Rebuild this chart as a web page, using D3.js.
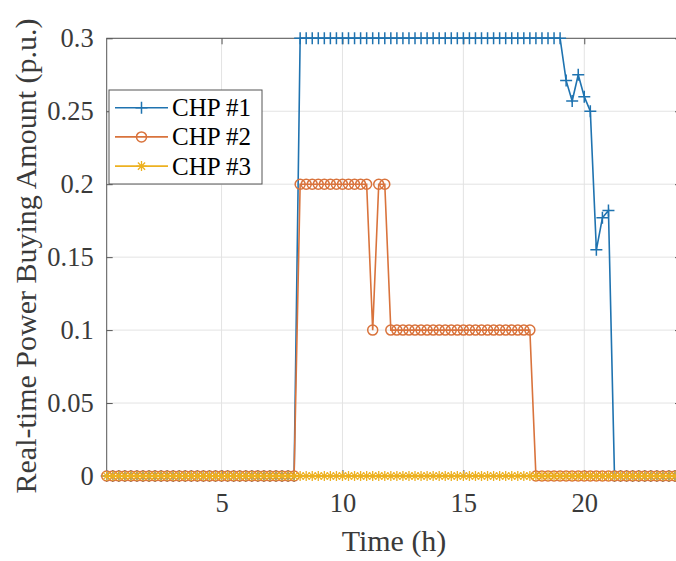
<!DOCTYPE html>
<html>
<head>
<meta charset="utf-8">
<script src="https://cdn.jsdelivr.net/npm/d3@7"></script>
<style>
  html, body { margin: 0; padding: 0; background: #fff; }
  svg { display: block; font-family: "Liberation Serif", "Times New Roman", serif; }
</style>
</head>
<body>
<div id="chart"></div>
<script>
// time steps (h), 15-minute resolution
var hours = [
  0.25, 0.5, 0.75, 1, 1.25, 1.5, 1.75, 2, 2.25, 2.5, 2.75, 3, 3.25, 3.5, 3.75, 4,
  4.25, 4.5, 4.75, 5, 5.25, 5.5, 5.75, 6, 6.25, 6.5, 6.75, 7, 7.25, 7.5, 7.75, 8,
  8.25, 8.5, 8.75, 9, 9.25, 9.5, 9.75, 10, 10.25, 10.5, 10.75, 11, 11.25, 11.5, 11.75, 12,
  12.25, 12.5, 12.75, 13, 13.25, 13.5, 13.75, 14, 14.25, 14.5, 14.75, 15, 15.25, 15.5, 15.75, 16,
  16.25, 16.5, 16.75, 17, 17.25, 17.5, 17.75, 18, 18.25, 18.5, 18.75, 19, 19.25, 19.5, 19.75, 20,
  20.25, 20.5, 20.75, 21, 21.25, 21.5, 21.75, 22, 22.25, 22.5, 22.75, 23, 23.25, 23.5, 23.75, 24
];

var chp1 = [
  0, 0, 0, 0, 0, 0, 0, 0, 0, 0, 0, 0, 0, 0, 0, 0,
  0, 0, 0, 0, 0, 0, 0, 0, 0, 0, 0, 0, 0, 0, 0, 0,
  0.3, 0.3, 0.3, 0.3, 0.3, 0.3, 0.3, 0.3, 0.3, 0.3, 0.3, 0.3, 0.3, 0.3, 0.3, 0.3,
  0.3, 0.3, 0.3, 0.3, 0.3, 0.3, 0.3, 0.3, 0.3, 0.3, 0.3, 0.3, 0.3, 0.3, 0.3, 0.3,
  0.3, 0.3, 0.3, 0.3, 0.3, 0.3, 0.3, 0.3, 0.3, 0.3, 0.3, 0.3, 0.271, 0.257, 0.275, 0.26,
  0.25, 0.155, 0.177, 0.182, 0, 0, 0, 0, 0, 0, 0, 0, 0, 0, 0, 0
];

var chp2 = [
  0, 0, 0, 0, 0, 0, 0, 0, 0, 0, 0, 0, 0, 0, 0, 0,
  0, 0, 0, 0, 0, 0, 0, 0, 0, 0, 0, 0, 0, 0, 0, 0,
  0.2, 0.2, 0.2, 0.2, 0.2, 0.2, 0.2, 0.2, 0.2, 0.2, 0.2, 0.2, 0.1, 0.2, 0.2, 0.1,
  0.1, 0.1, 0.1, 0.1, 0.1, 0.1, 0.1, 0.1, 0.1, 0.1, 0.1, 0.1, 0.1, 0.1, 0.1, 0.1,
  0.1, 0.1, 0.1, 0.1, 0.1, 0.1, 0.1, 0, 0, 0, 0, 0, 0, 0, 0, 0,
  0, 0, 0, 0, 0, 0, 0, 0, 0, 0, 0, 0, 0, 0, 0, 0
];

var chp3 = [
  0, 0, 0, 0, 0, 0, 0, 0, 0, 0, 0, 0, 0, 0, 0, 0,
  0, 0, 0, 0, 0, 0, 0, 0, 0, 0, 0, 0, 0, 0, 0, 0,
  0, 0, 0, 0, 0, 0, 0, 0, 0, 0, 0, 0, 0, 0, 0, 0,
  0, 0, 0, 0, 0, 0, 0, 0, 0, 0, 0, 0, 0, 0, 0, 0,
  0, 0, 0, 0, 0, 0, 0, 0, 0, 0, 0, 0, 0, 0, 0, 0,
  0, 0, 0, 0, 0, 0, 0, 0, 0, 0, 0, 0, 0, 0, 0, 0
];

var seriesNames = ["CHP #1", "CHP #2", "CHP #3"];
var xTicks = [5, 10, 15, 20];
var yTicks = [0, 0.05, 0.1, 0.15, 0.2, 0.25, 0.3];

var colors = ["#1f73b0", "#d9733c", "#edb120"];
var markers = ["plus", "circle", "star"];

var W = 676, H = 561;
// plot box (right edge falls just outside the picture, as in the original)
var mLeft = 106.7, mRight = 681, mTop = 38.3, mBottom = 476;

var svg = d3.select("#chart").append("svg")
  .attr("width", W)
  .attr("height", H);

var x = d3.scaleLinear().domain([0.25, 24]).range([mLeft, mRight]);
var y = d3.scaleLinear().domain([0, 0.3]).range([mBottom, mTop]);

// grid
var grid = svg.append("g").attr("class", "grid");
grid.selectAll("line.gx").data(xTicks).enter().append("line")
  .attr("x1", d => x(d)).attr("x2", d => x(d))
  .attr("y1", mTop).attr("y2", mBottom)
  .attr("stroke", "#e3e3e3").attr("stroke-width", 1);
grid.selectAll("line.gy").data(yTicks).enter().append("line")
  .attr("x1", mLeft).attr("x2", mRight)
  .attr("y1", d => y(d)).attr("y2", d => y(d))
  .attr("stroke", "#e3e3e3").attr("stroke-width", 1);

// axes (ticks point inward)
var xAxis = d3.axisBottom(x).tickValues(xTicks).tickSizeInner(-6).tickSizeOuter(0).tickPadding(17)
  .tickFormat(d3.format("d"));
var xAxisTop = d3.axisTop(x).tickValues(xTicks).tickSizeInner(-6).tickSizeOuter(0).tickFormat("");
var yAxis = d3.axisLeft(y).tickValues(yTicks).tickSizeInner(-6).tickSizeOuter(0).tickPadding(13)
  .tickFormat(d => d === 0 ? "0" : String(+d.toFixed(2)));
var yAxisRight = d3.axisRight(y).tickValues(yTicks).tickSizeInner(-6).tickSizeOuter(0).tickFormat("");

function styleAxis(g) {
  g.select(".domain").remove();
  g.selectAll(".tick line").attr("stroke", "#555");
  g.selectAll(".tick text")
    .attr("fill", "#3a3a3a")
    .style("font-size", "26.5px")
    .style("font-family", "'Liberation Serif', 'Times New Roman', serif");
}

svg.append("g").attr("transform", `translate(0,${mBottom})`).call(xAxis).call(styleAxis);
svg.append("g").attr("transform", `translate(0,${mTop})`).call(xAxisTop).call(styleAxis);
svg.append("g").attr("transform", `translate(${mLeft},0)`).call(yAxis).call(styleAxis);
svg.append("g").attr("transform", `translate(${mRight},0)`).call(yAxisRight).call(styleAxis);

// box
svg.append("rect")
  .attr("x", mLeft).attr("y", mTop)
  .attr("width", mRight - mLeft).attr("height", mBottom - mTop)
  .attr("fill", "none").attr("stroke", "#555").attr("stroke-width", 1);

// markers
function drawMarker(g, kind, color) {
  if (kind === "plus") {
    g.append("path").attr("d", "M-6,0H6M0,-6V6")
      .attr("stroke", color).attr("stroke-width", 1.5).attr("fill", "none");
  } else if (kind === "circle") {
    g.append("circle").attr("r", 5)
      .attr("stroke", color).attr("stroke-width", 1.5).attr("fill", "none");
  } else {
    g.append("path").attr("d", "M-5,0H5M0,-5V5M-3.6,-3.6L3.6,3.6M-3.6,3.6L3.6,-3.6")
      .attr("stroke", color).attr("stroke-width", 1.3).attr("fill", "none");
  }
}

var line = d3.line().x(d => x(d[0])).y(d => y(d[1]));
var allSeries = [chp1, chp2, chp3];

allSeries.forEach(function(vals, i) {
  var pts = hours.map((h, k) => [h, vals[k]]);
  var g = svg.append("g").attr("class", "series s" + i);
  g.append("path")
    .datum(pts)
    .attr("d", line)
    .attr("fill", "none")
    .attr("stroke", colors[i])
    .attr("stroke-width", 1.6);
  g.selectAll("g.mk").data(pts).enter().append("g")
    .attr("class", "mk")
    .attr("transform", d => `translate(${x(d[0])},${y(d[1])})`)
    .each(function() { drawMarker(d3.select(this), markers[i], colors[i]); });
});

// axis labels
svg.append("text")
  .attr("x", 394).attr("y", 551)
  .attr("text-anchor", "middle")
  .attr("fill", "#3a3a3a")
  .style("font-size", "30px")
  .text("Time (h)");

svg.append("text")
  .attr("transform", "translate(36,256) rotate(-90)")
  .attr("text-anchor", "middle")
  .attr("fill", "#3a3a3a")
  .style("font-size", "30px")
  .text("Real-time Power Buying Amount (p.u.)");

// legend
var legend = svg.append("g").attr("class", "legend");
legend.append("rect")
  .attr("x", 109).attr("y", 90).attr("width", 153).attr("height", 94)
  .attr("fill", "#fff").attr("stroke", "#555").attr("stroke-width", 1);
seriesNames.forEach(function(name, i) {
  var ly = 107.7 + i * 29.2;
  legend.append("line")
    .attr("x1", 115).attr("x2", 168).attr("y1", ly).attr("y2", ly)
    .attr("stroke", colors[i]).attr("stroke-width", 1.6);
  var mg = legend.append("g").attr("transform", `translate(141.5,${ly})`);
  drawMarker(mg, markers[i], colors[i]);
  legend.append("text")
    .attr("x", 172).attr("y", ly + 8.5)
    .attr("fill", "#000")
    .style("font-size", "25px")
    .text(name);
});
</script>
</body>
</html>
